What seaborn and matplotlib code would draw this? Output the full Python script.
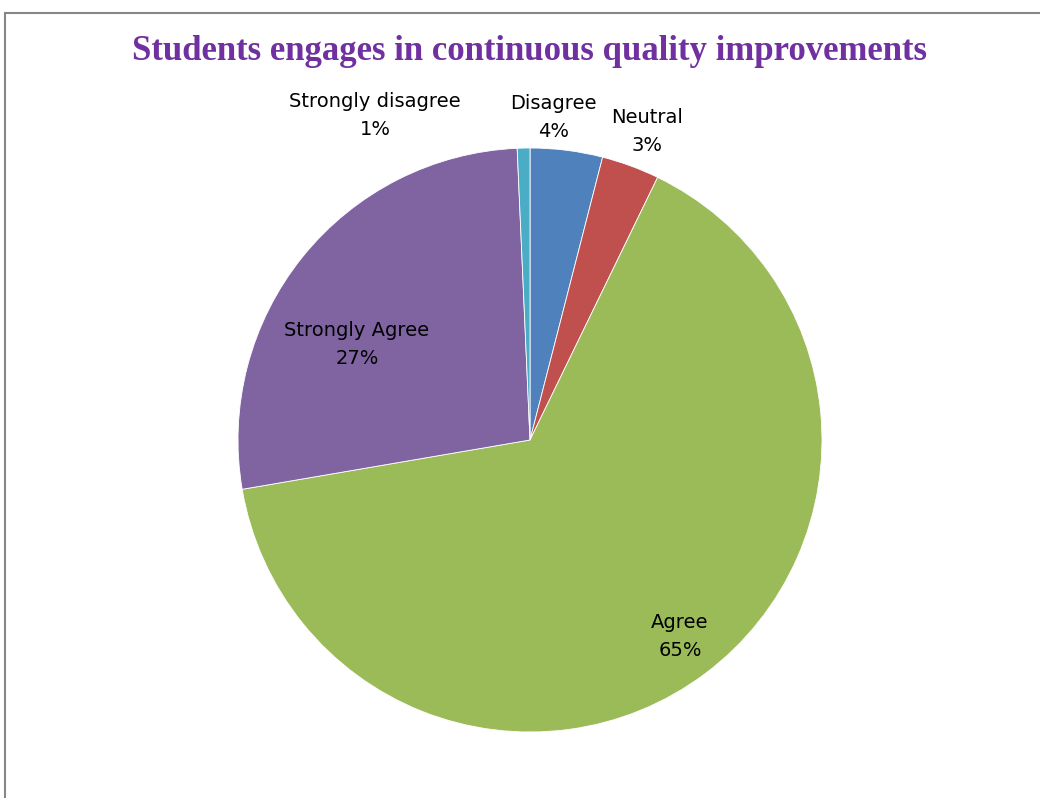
import matplotlib
matplotlib.use("Agg")
import matplotlib.pyplot as plt
import seaborn as sns
import numpy as np
from matplotlib.patches import Rectangle

categories = ["Disagree", "Neutral", "Agree", "Strongly Agree", "Strongly disagree"]
values = [4.0, 3.2, 65.1, 27.0, 0.7]
pct_labels = ["4%", "3%", "65%", "27%", "1%"]
colors = ["#4F81BD", "#C0504D", "#9BBB59", "#8064A2", "#4BACC6"]

# label placement (radius factor, angle in degrees) - layout only
label_pos = [(1.109, 85.9), (1.13, 69.3), (0.848, -52.7), (0.676, 151.2), (1.233, 115.5)]

sns.set_theme(style="white")
plt.rcParams['font.family'] = ['DejaVu Sans']

fig = plt.figure(figsize=(10.4, 7.98), dpi=100)
W, H = 1040, 798
R = 292
cx, cy = 530, 440
lim = 1.2
size = 2 * lim * R
ax = fig.add_axes([(cx - size / 2) / W, ((H - cy) - size / 2) / H, size / W, size / H])

wedges, _ = ax.pie(values, colors=colors, startangle=90, counterclock=False,
                   radius=1.0, wedgeprops=dict(edgecolor="white", linewidth=0.6))
ax.set_xlim(-lim, lim)
ax.set_ylim(-lim, lim)
ax.set_aspect("equal")
ax.axis("off")

for cat, pct, (r, ang) in zip(categories, pct_labels, label_pos):
    a = np.deg2rad(ang)
    ax.text(r * np.cos(a), r * np.sin(a), f"{cat}\n{pct}", ha="center", va="center",
            fontsize=14, color="black", linespacing=1.6, clip_on=False)

fig.text(530 / W, 1 - 52 / H, "Students engages in continuous quality improvements",
         ha="center", va="center", fontsize=25, fontweight="bold", color="#7030A0",
         family=["Liberation Serif", "DejaVu Serif"])

fig.patches.append(Rectangle((4.5 / W, -0.1), 1.2, (1 - 13 / H) + 0.1, transform=fig.transFigure,
                             fill=False, edgecolor="#868686", linewidth=1.5))

fig.savefig("out.png", dpi=100)
